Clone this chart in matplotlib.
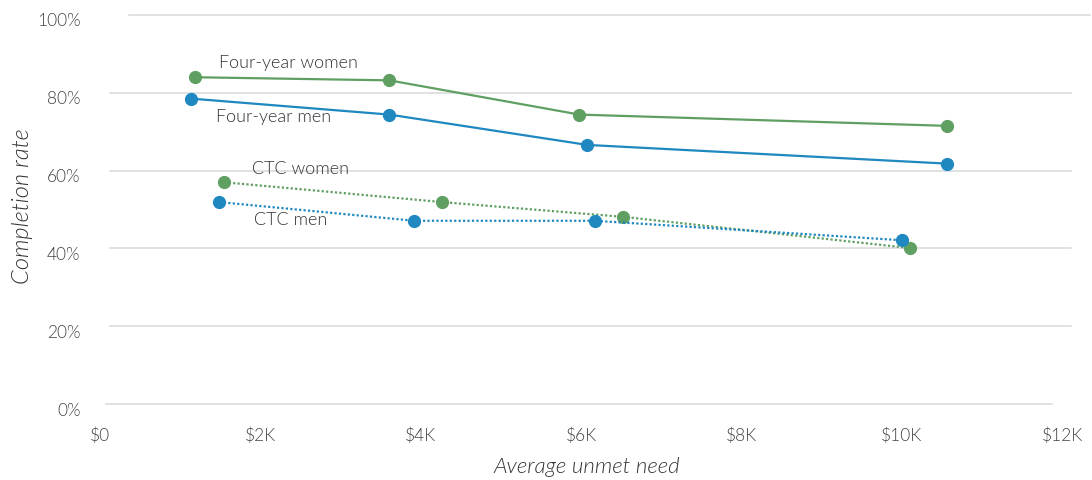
import matplotlib
matplotlib.use("Agg")
import matplotlib.pyplot as plt
from matplotlib.transforms import ScaledTranslation

plt.rcParams['font.family'] = ['Lato', 'DejaVu Sans']

# Data (x in $K, y in %)
fy_women_x = [1.185, 3.61, 5.98, 10.56]
fy_women_y = [84.0, 83.2, 74.4, 71.5]
fy_men_x = [1.14, 3.61, 6.08, 10.56]
fy_men_y = [78.5, 74.4, 66.6, 61.8]
ctc_women_x = [1.55, 4.27, 6.53, 10.10]
ctc_women_y = [57.0, 51.9, 48.1, 40.1]
ctc_men_x = [1.49, 3.92, 6.17, 10.0]
ctc_men_y = [51.9, 47.1, 47.1, 42.1]

x_ticks = [0, 2, 4, 6, 8, 10, 12]
x_tick_labels = ['$0', '$2K', '$4K', '$6K', '$8K', '$10K', '$12K']
y_ticks = [0, 20, 40, 60, 80, 100]
y_tick_labels = ['0%', '20%', '40%', '60%', '80%', '100%']

GREEN = '#5f9f62'
BLUE = '#1f88c1'
TXT = '#333333'
TICK = '#444444'
GRID = '#dedede'
WEIGHT = 300

W, H = 1092, 480
fig = plt.figure(figsize=(W / 100, H / 100), dpi=100)
left_px, right_px, top_px, bot_px = 100, 1062, 15, 404
ax = fig.add_axes([left_px / W, 1 - bot_px / H, (right_px - left_px) / W, (bot_px - top_px) / H])
ax.set_xlim(0, 12)
ax.set_ylim(0, 100)

for s in ax.spines.values():
    s.set_visible(False)

# gridlines (staggered as in reference)
aw = right_px - left_px
for v in y_ticks:
    if v == 100:
        xs, xe = 129, 1090
    elif v == 0:
        xs, xe = 106, 1052
    else:
        xs, xe = 110, 1071
    ax.axhline(v, xmin=(xs - left_px) / aw, xmax=(xe - left_px) / aw, color=GRID,
               lw=1.3, zorder=0, clip_on=False)

ms = 8.5
lw = 1.6
ax.plot(fy_women_x, fy_women_y, color=GREEN, lw=lw, marker='o', ms=ms, zorder=3)
ax.plot(fy_men_x, fy_men_y, color=BLUE, lw=lw, marker='o', ms=ms, zorder=3)
ax.plot(ctc_women_x, ctc_women_y, color=GREEN, lw=1.6, ls=(0, (1, 1)), marker='o', ms=ms, zorder=3)
ax.plot(ctc_men_x, ctc_men_y, color=BLUE, lw=1.6, ls=(0, (1, 1)), marker='o', ms=ms, zorder=3)

lab_kw = dict(textcoords='offset pixels', ha='center', va='center', fontsize=13,
              color=TXT, fontweight=WEIGHT)
ax.annotate('Four-year women', (fy_women_x[0], fy_women_y[0]), xytext=(93, 14), **lab_kw)
ax.annotate('Four-year men', (fy_men_x[0], fy_men_y[0]), xytext=(82, -18), **lab_kw)
ax.annotate('CTC women', (ctc_women_x[0], ctc_women_y[0]), xytext=(76, 13), **lab_kw)
ax.annotate('CTC men', (ctc_men_x[0], ctc_men_y[0]), xytext=(71, -18), **lab_kw)

ax.set_xticks(x_ticks)
ax.set_xticklabels(x_tick_labels)
ax.set_yticks(y_ticks)
ax.set_yticklabels(y_tick_labels)
ax.tick_params(axis='both', length=0, labelsize=12.5, labelcolor=TICK)
ax.tick_params(axis='x', pad=17)
ax.tick_params(axis='y', pad=14)
for t in ax.get_xticklabels() + ax.get_yticklabels():
    t.set_fontweight(WEIGHT)
off = ScaledTranslation(0, -5 / 100, fig.dpi_scale_trans)
for t in ax.get_yticklabels():
    t.set_transform(t.get_transform() + off)

fig.text(587 / W, 1 - 467 / H, 'Average unmet need', ha='center', va='center',
         fontsize=16, style='italic', color=TXT, fontweight=WEIGHT)
fig.text(23 / W, 1 - 206 / H, 'Completion rate', ha='center', va='center',
         rotation=90, fontsize=17, style='italic', color=TXT, fontweight=WEIGHT)

fig.savefig('out.png', dpi=100)
